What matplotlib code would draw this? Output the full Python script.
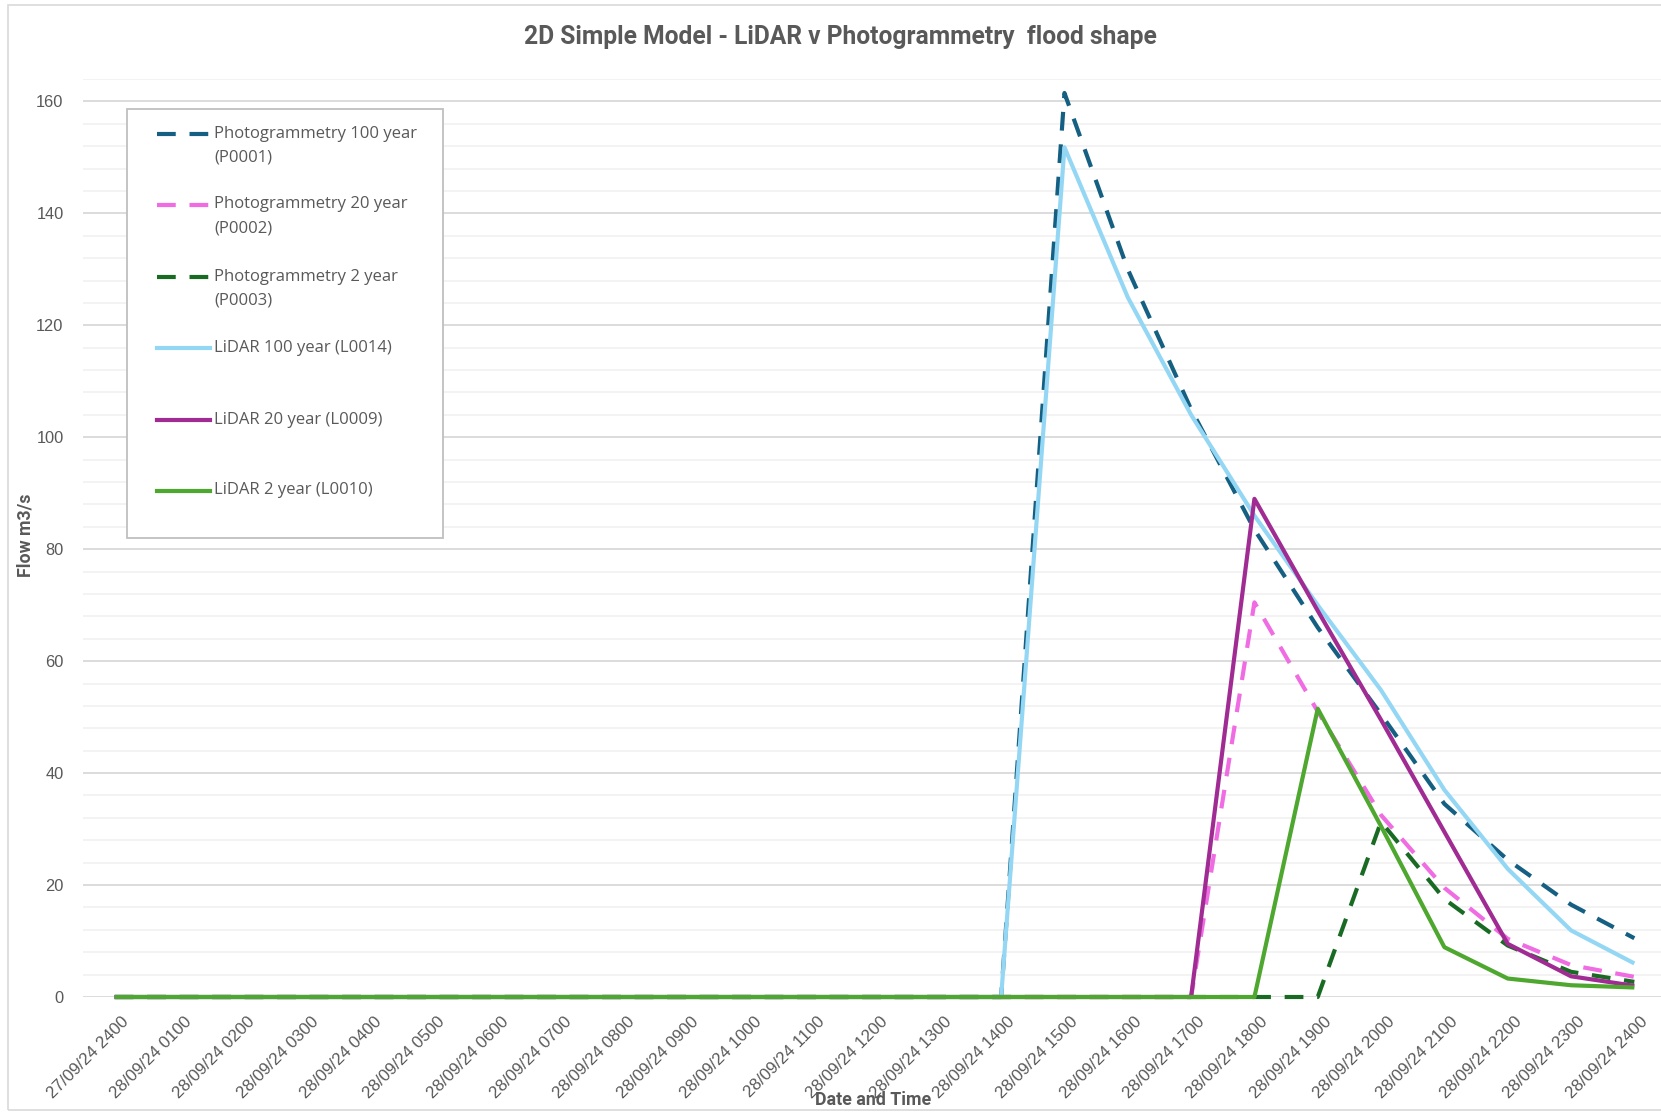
#!/usr/bin/env python3
"""Flood hydrographs: LiDAR vs photogrammetry, 2D simple model."""
import matplotlib
matplotlib.use('Agg')
import matplotlib.pyplot as plt
import matplotlib.transforms as mtransforms
from matplotlib.lines import Line2D
from matplotlib.patches import Rectangle

times = ['27/09/24 2400', '28/09/24 0100', '28/09/24 0200', '28/09/24 0300',
         '28/09/24 0400', '28/09/24 0500', '28/09/24 0600', '28/09/24 0700',
         '28/09/24 0800', '28/09/24 0900', '28/09/24 1000', '28/09/24 1100',
         '28/09/24 1200', '28/09/24 1300', '28/09/24 1400', '28/09/24 1500',
         '28/09/24 1600', '28/09/24 1700', '28/09/24 1800', '28/09/24 1900',
         '28/09/24 2000', '28/09/24 2100', '28/09/24 2200', '28/09/24 2300',
         '28/09/24 2400']

# flows in m3/s, one value per hour
p0001 = [0, 0, 0, 0, 0, 0, 0, 0, 0, 0, 0, 0, 0, 0,
         0, 161.5, 130, 105, 83.5, 66, 50.5, 34.5, 24.5, 16.5, 10.5]
p0002 = [0, 0, 0, 0, 0, 0, 0, 0, 0, 0, 0, 0, 0, 0,
         0, 0, 0, 0, 70.5, 51, 32.5, 19.5, 10.4, 5.7, 3.6]
p0003 = [0, 0, 0, 0, 0, 0, 0, 0, 0, 0, 0, 0, 0, 0,
         0, 0, 0, 0, 0, 0, 31.3, 17.5, 9.2, 4.5, 2.7]
l0014 = [0, 0, 0, 0, 0, 0, 0, 0, 0, 0, 0, 0, 0, 0,
         0, 151.8, 125, 104, 86, 70, 54.8, 37, 22.9, 11.9, 6.0]
l0009 = [0, 0, 0, 0, 0, 0, 0, 0, 0, 0, 0, 0, 0, 0,
         0, 0, 0, 0, 89, 69, 49.5, 29.5, 9.5, 3.7, 2.0]
l0010 = [0, 0, 0, 0, 0, 0, 0, 0, 0, 0, 0, 0, 0, 0,
         0, 0, 0, 0, 0, 51.5, 30.5, 8.9, 3.3, 2.1, 1.7]

series = [
    ('Photogrammetry 100 year\n(P0001)', p0001, '#156082', True),
    ('Photogrammetry 20 year\n(P0002)', p0002, '#F06CE2', True),
    ('Photogrammetry 2 year\n(P0003)', p0003, '#196B24', True),
    ('LiDAR 100 year (L0014)', l0014, '#94D7F4', False),
    ('LiDAR 20 year (L0009)', l0009, '#A02B93', False),
    ('LiDAR 2 year (L0010)', l0010, '#4EA72E', False),
]

W, H = 1661, 1112
fig = plt.figure(figsize=(W / 100, H / 100), dpi=100)
grey = '#595959'

# chart area border
fig.patches.append(Rectangle((8 / W, 0.002), 1.0, 1 - 5 / H - 0.002, transform=fig.transFigure,
                             fill=False, edgecolor='#D9D9D9', linewidth=1.2))

ax = fig.add_axes([83 / W, 1 - 997 / H, (1666 - 83) / W, (997 - 79) / H])
x = list(range(len(times)))

for label, vals, color, dashed in series:
    ls = (0, (4.5, 3.3)) if dashed else '-'
    ax.plot(x, vals, color=color, lw=3, linestyle=ls, solid_joinstyle='round',
            solid_capstyle='butt', zorder=3, clip_on=False)

ax.set_xlim(-0.5, len(times) - 0.5)
ax.set_ylim(0, 164)
ax.set_yticks(range(0, 161, 20))
ax.set_yticks(range(0, 165, 4), minor=True)
ax.grid(axis='y', which='minor', color='#F2F2F2', lw=1.3, zorder=0)
ax.grid(axis='y', which='major', color='#D9D9D9', lw=1.3, zorder=1)
for s in ax.spines.values():
    s.set_visible(False)
ax.tick_params(axis='both', which='both', length=0)
ax.tick_params(axis='y', labelsize=11.8, labelcolor=grey, pad=14)
ax.set_yticklabels([str(v) for v in range(0, 161, 20)], family='Liberation Sans')

ax.set_xticks(x)
ax.set_xticklabels(times, family='Liberation Sans', fontsize=12.2, color=grey)
ax.tick_params(axis='x', pad=12.5)
shift = mtransforms.ScaledTranslation(6 / 100, 0, fig.dpi_scale_trans)
for lbl in ax.get_xticklabels():
    lbl.set_rotation(45)
    lbl.set_ha('right')
    lbl.set_va('top')
    lbl.set_rotation_mode('anchor')
    lbl.set_transform(lbl.get_transform() + shift)

fig.text(873 / W, 1 - 1100 / H, 'Date and Time', ha='center', va='center',
         fontsize=12.8, fontweight='bold', color=grey, family='Roboto')
fig.text(25 / W, 1 - 535 / H, 'Flow m3/s', ha='center', va='center', rotation=90,
         fontsize=12.8, fontweight='bold', color=grey, family='Roboto')
fig.text(840 / W, 1 - 37 / H, '2D Simple Model - LiDAR v Photogrammetry  flood shape',
         ha='center', va='center', fontsize=17.7, fontweight='bold', color=grey, family='Roboto')

# legend box drawn in figure pixels
fig.patches.append(Rectangle((127 / W, 1 - 538 / H), (443 - 127) / W, (538 - 109) / H,
                             transform=fig.transFigure, facecolor='white',
                             edgecolor='#BFBFBF', linewidth=1.3, zorder=5))
rows = [133.5, 204.5, 276.5, 347.5, 419.5, 490.5]
for (label, vals, color, dashed), yy in zip(series, rows):
    ls = (0, (4.5, 3.3)) if dashed else '-'
    fig.add_artist(Line2D([157 / W, 210 / W], [1 - yy / H, 1 - yy / H], transform=fig.transFigure,
                          color=color, lw=3, linestyle=ls, zorder=6))
    first, *rest = label.split('\n')
    fig.text(214 / W, 1 - yy / H, first, ha='left', va='center', fontsize=12,
             color=grey, family='Open Sans', zorder=6)
    if rest:
        fig.text(214 / W, 1 - (yy + 24) / H, rest[0], ha='left', va='center', fontsize=12,
                 color=grey, family='Open Sans', zorder=6)

plt.savefig('out.png', dpi=100)
print('saved out.png')
